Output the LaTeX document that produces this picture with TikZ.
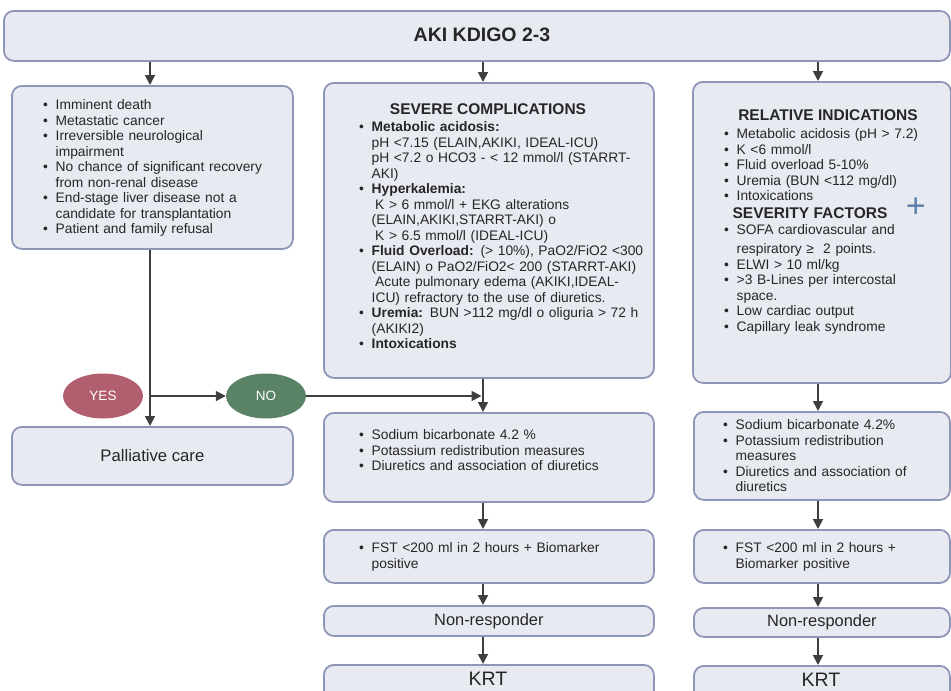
\documentclass[tikz,border=0pt]{standalone}
\usepackage{fontspec}
\setmainfont{Liberation Sans}
\usetikzlibrary{arrows.meta,shapes.geometric}

\definecolor{boxfill}{HTML}{E8EAF2}
\definecolor{boxline}{HTML}{8E96B8}
\definecolor{arrowgrey}{HTML}{3F3F3F}
\definecolor{txt}{HTML}{262626}
\definecolor{yesred}{HTML}{B15E6F}
\definecolor{nogreen}{HTML}{5A8265}
\definecolor{plusblue}{HTML}{5B7FA8}

% body text and bulleted paragraphs with a hanging indent
\newcommand\bodyfont{\fontsize{13.8}{15.5}\selectfont}
\newcommand\firstbullet{\hangindent=12.5pt\hangafter=1\noindent\makebox[12.5pt][l]{\textbullet}}
\newcommand\listbullet{\par\firstbullet}

\begin{document}
\begin{tikzpicture}[x=1pt,y=-1pt,
  box/.style={draw=boxline, fill=boxfill, line width=1.8pt, rounded corners=10pt,
              inner sep=0pt, anchor=north west, text=txt},
  arr/.style={draw=arrowgrey, line width=1.8pt, -{Triangle[length=10pt,width=10pt]}},
  bullets/.style={anchor=base west, inner sep=0pt, text width=#1,
                  font=\bodyfont, text=txt},
  heading/.style={anchor=base, inner sep=0pt, font=\fontsize{15.5}{18}\selectfont\bfseries, text=txt},
  big/.style={font=\fontsize{#1}{#1}\selectfont, text=txt},
  choice/.style={ellipse, minimum width=80pt, minimum height=45pt, inner sep=0pt,
                 text=white, font=\fontsize{13.5}{15}\selectfont}
]
\useasboundingbox (0,0) rectangle (951,691);
\clip (0,0) rectangle (951,691);

% column lines for the vertical connectors
\coordinate (cL) at (150,0);
\coordinate (cM) at (483,0);
\coordinate (cR) at (818,0);

% ---------- boxes ----------
\node[box, minimum width=946pt, minimum height=50pt] (top) at (3,10) {};
\node[anchor=center, inner sep=0pt, font=\fontsize{19.5}{20}\selectfont\bfseries, text=txt]
  (toplabel) at (482,35) {AKI KDIGO 2-3};

\node[box, minimum width=281pt, minimum height=163pt] (left) at (11,85) {};
\node[box, minimum width=330pt, minimum height=295pt] (sev) at (323,82) {};
\node[box, minimum width=258pt, minimum height=301pt] (rel) at (692,81) {};

\node[box, minimum width=281pt, minimum height=58pt, big=16.7] (pall) at (11,426) {Palliative care};

\node[box, minimum width=330pt, minimum height=89pt] (sodM) at (323,412) {};
\node[box, minimum width=256pt, minimum height=88pt] (sodR) at (693,411) {};

\node[box, minimum width=330pt, minimum height=53pt] (fstM) at (323,529) {};
\node[box, minimum width=256pt, minimum height=53pt] (fstR) at (693,529) {};

\node[box, minimum width=330pt, minimum height=30pt, big=16.4] (nonM) at (323,605) {Non-responder};
\node[box, minimum width=256pt, minimum height=29pt, big=16.4] (nonR) at (693,607) {Non-responder};

\node[box, minimum width=330pt, minimum height=45pt] (krtM) at (323,664) {};
\node[box, minimum width=256pt, minimum height=45pt] (krtR) at (693,665) {};
\node[inner sep=0pt, big=19.5] (krtMlabel) at (488,679) {KRT};
\node[inner sep=0pt, big=19.5] (krtRlabel) at (821,680) {KRT};

% ---------- decision ellipses ----------
\node[choice, fill=yesred] (yes) at (103,396) {YES};
\node[choice, fill=nogreen] (no) at (266,396) {NO};

% ---------- box texts ----------
\node[bullets=240pt] (leftlist) at (43,109.5) {\raggedright
\firstbullet Imminent death
\listbullet Metastatic cancer
\listbullet Irreversible neurological\newline impairment
\listbullet No chance of significant recovery\newline from non-renal disease
\listbullet End-stage liver disease not a\newline candidate for transplantation
\listbullet Patient and family refusal\par};

\node[heading] (sevtitle) at (488,114.5) {SEVERE COMPLICATIONS};
\node[bullets=290pt] (sevlist) at (359,131.5) {\raggedright
\firstbullet \textbf{Metabolic acidosis:}\newline
pH <7.15 (ELAIN,AKIKI, IDEAL-ICU)\newline
pH <7.2 o HCO3 - < 12 mmol/l (STARRT-\newline
AKI)
\listbullet \textbf{Hyperkalemia:}\newline
\hspace*{3.5pt}K > 6 mmol/l + EKG alterations\newline
(ELAIN,AKIKI,STARRT-AKI) o\newline
\hspace*{3.5pt}K > 6.5 mmol/l (IDEAL-ICU)
\listbullet \textbf{Fluid Overload:} (> 10\%), PaO2/FiO2 <300\newline
(ELAIN) o PaO2/FiO2< 200 (STARRT-AKI)\newline
\hspace*{3.5pt}Acute pulmonary edema (AKIKI,IDEAL-\newline
ICU) refractory to the use of diuretics.
\listbullet \textbf{Uremia:} BUN >112 mg/dl o oliguria > 72 h\newline
(AKIKI2)
\listbullet \textbf{Intoxications}\par};

\node[heading] (reltitle) at (828,120.5) {RELATIVE INDICATIONS};
\node[bullets=220pt] (rellist) at (724,138.5) {\raggedright
\firstbullet Metabolic acidosis (pH > 7.2)
\listbullet K <6 mmol/l
\listbullet Fluid overload 5-10\%
\listbullet Uremia (BUN <112 mg/dl)
\listbullet Intoxications\par};
\node[heading] (sevfactors) at (810,218.5) {SEVERITY FACTORS};
\node[inner sep=0pt, text=plusblue, font=\fontsize{34}{34}\selectfont] (plus) at (915.7,208) {+};
\node[bullets=220pt] (factorlist) at (724,234.5) {\raggedright
\firstbullet SOFA cardiovascular and\vspace{3.5pt}\newline
respiratory ≥\ \ 2 points.
\listbullet ELWI > 10 ml/kg
\listbullet >3 B-Lines per intercostal\newline space.
\listbullet Low cardiac output
\listbullet Capillary leak syndrome\par};

\node[bullets=290pt] (sodMlist) at (359,439.5) {\raggedright
\firstbullet Sodium bicarbonate 4.2 \%
\listbullet Potassium redistribution measures
\listbullet Diuretics and association of diuretics\par};
\node[bullets=225pt] (sodRlist) at (723,429.5) {\raggedright
\firstbullet Sodium bicarbonate 4.2\%
\listbullet Potassium redistribution\newline measures
\listbullet Diuretics and association of\newline diuretics\par};

\node[bullets=290pt] (fstMlist) at (359,552.5) {\raggedright
\firstbullet FST <200 ml in 2 hours + Biomarker\newline positive\par};
\node[bullets=225pt] (fstRlist) at (723,552.5) {\raggedright
\firstbullet FST <200 ml in 2 hours +\newline Biomarker positive\par};

% ---------- connectors ----------
\draw[arr] (top.south -| cL) -- (left.north -| cL);
\draw[arr] (top.south -| cM) -- (sev.north -| cM);
\draw[arr] (top.south -| cR) -- (rel.north -| cR);

\draw[arr] (left.south -| cL) -- (pall.north -| cL);
\draw[arr] (yes.east -| cL) -- (no.west);
\draw[arr, shorten >=1.5pt] (no.east) -- (no.east -| cM);

\draw[arr] (sev.south -| cM) -- (sodM.north -| cM);
\draw[arr] (sodM.south -| cM) -- (fstM.north -| cM);
\draw[arr] (fstM.south -| cM) -- (nonM.north -| cM);
\draw[arr] (nonM.south -| cM) -- (krtM.north -| cM);

\draw[arr] (rel.south -| cR) -- (sodR.north -| cR);
\draw[arr] (sodR.south -| cR) -- (fstR.north -| cR);
\draw[arr] (fstR.south -| cR) -- (nonR.north -| cR);
\draw[arr] (nonR.south -| cR) -- (krtR.north -| cR);
\end{tikzpicture}
\end{document}
